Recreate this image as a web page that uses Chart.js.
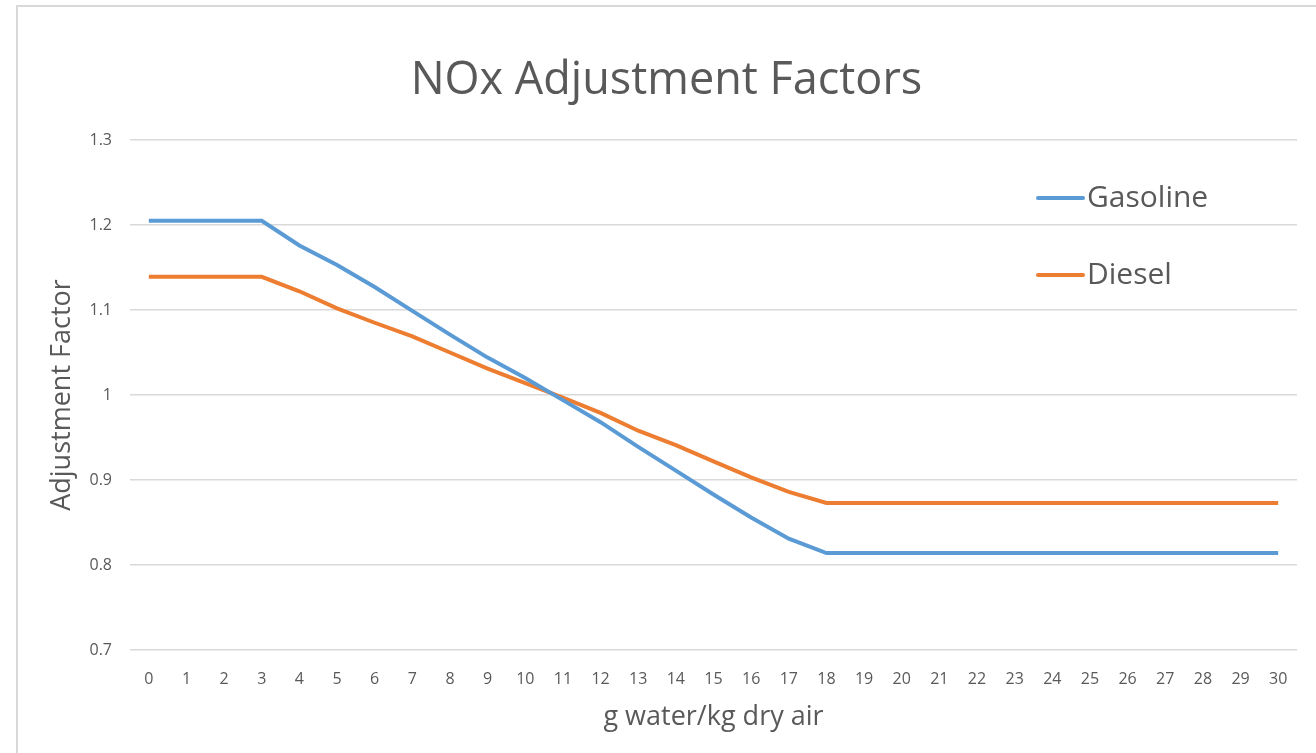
<!DOCTYPE html>
<html lang="en">
<head>
    <meta charset="UTF-8">
    <title>NOx Adjustment Factors</title>
    <script src="https://cdn.jsdelivr.net/npm/chart.js"></script>
    <style>
        body { margin: 0; background: #fff; }
        #wrap { position: relative; width: 1316px; height: 753px; overflow: hidden; }
        #frame {
            position: absolute; left: 16px; top: 5px; width: 1300px; height: 748px;
            border-left: 2px solid #d9d9d9; border-top: 2px solid #d9d9d9;
        }
        #nox { position: absolute; left: 0; top: 0; }
    </style>
</head>
<body>
    <div id="wrap">
        <div id="frame"></div>
        <canvas id="nox" width="1316" height="753"></canvas>
    </div>

    <script>
        // humidity, g water / kg dry air
        const humidity = ['0', '1', '2', '3', '4', '5', '6', '7', '8', '9', '10',
            '11', '12', '13', '14', '15', '16', '17', '18', '19', '20',
            '21', '22', '23', '24', '25', '26', '27', '28', '29', '30'];

        const gasoline = [1.205, 1.205, 1.205, 1.205, 1.176, 1.153, 1.127, 1.099, 1.071, 1.044, 1.020,
            0.994, 0.968, 0.939, 0.911, 0.883, 0.856, 0.831, 0.814, 0.814, 0.814,
            0.814, 0.814, 0.814, 0.814, 0.814, 0.814, 0.814, 0.814, 0.814, 0.814];

        const diesel = [1.139, 1.139, 1.139, 1.139, 1.122, 1.102, 1.085, 1.069, 1.050, 1.031, 1.014,
            0.997, 0.979, 0.958, 0.941, 0.922, 0.903, 0.886, 0.873, 0.873, 0.873,
            0.873, 0.873, 0.873, 0.873, 0.873, 0.873, 0.873, 0.873, 0.873, 0.873];

        const textGrey = '#595959';
        const fontFamily = '"Open Sans", "Noto Sans", sans-serif';

        // legend drawn inside the plot, upper right
        const insideLegend = {
            id: 'insideLegend',
            afterDraw(chart) {
                const ctx = chart.ctx;
                const area = chart.chartArea;
                const x0 = area.right - 259;
                let y = area.top + 58;
                ctx.save();
                ctx.font = '30px ' + fontFamily;
                ctx.textBaseline = 'middle';
                ctx.textAlign = 'left';
                chart.data.datasets.forEach(ds => {
                    ctx.strokeStyle = ds.borderColor;
                    ctx.lineWidth = 4;
                    ctx.lineCap = 'round';
                    ctx.beginPath();
                    ctx.moveTo(x0, y);
                    ctx.lineTo(x0 + 45, y);
                    ctx.stroke();
                    ctx.fillStyle = textGrey;
                    ctx.fillText(ds.label, x0 + 49, y);
                    y += 77;
                });
                ctx.restore();
            }
        };

        const ctx = document.getElementById('nox').getContext('2d');
        new Chart(ctx, {
            type: 'line',
            data: {
                labels: humidity,
                datasets: [
                    {
                        label: 'Gasoline',
                        data: gasoline,
                        borderColor: '#5b9bd5',
                        borderWidth: 4,
                        pointRadius: 0,
                        tension: 0,
                        fill: false
                    },
                    {
                        label: 'Diesel',
                        data: diesel,
                        borderColor: '#ed7d31',
                        borderWidth: 4,
                        pointRadius: 0,
                        tension: 0,
                        fill: false
                    }
                ]
            },
            options: {
                responsive: false,
                animation: false,
                layout: { padding: { left: 36, right: 19, top: 0, bottom: 0 } },
                plugins: {
                    legend: { display: false },
                    tooltip: { enabled: false },
                    title: {
                        display: true,
                        text: 'NOx Adjustment Factors',
                        color: textGrey,
                        font: { family: fontFamily, size: 45, weight: 'normal', lineHeight: 1.2 },
                        padding: { top: 54, bottom: 32 }
                    }
                },
                scales: {
                    x: {
                        offset: true,
                        grid: { display: false, drawTicks: false },
                        border: { display: false },
                        ticks: {
                            color: textGrey,
                            font: { family: fontFamily, size: 16 },
                            padding: 20,
                            maxRotation: 0,
                            autoSkip: false
                        },
                        title: {
                            display: true,
                            text: 'g water/kg dry air',
                            color: textGrey,
                            font: { family: fontFamily, size: 27, lineHeight: 1.2 },
                            padding: { top: 0, bottom: 19 }
                        },
                        afterFit(scale) { scale.height = 103; }
                    },
                    y: {
                        min: 0.7,
                        max: 1.3,
                        grid: { color: '#d9d9d9', lineWidth: 1.5, drawTicks: false },
                        border: { display: false },
                        ticks: {
                            stepSize: 0.1,
                            color: textGrey,
                            font: { family: fontFamily, size: 16 },
                            padding: 18,
                            callback: v => Math.round(v * 10) / 10
                        },
                        title: {
                            display: true,
                            text: 'Adjustment Factor',
                            color: textGrey,
                            font: { family: fontFamily, size: 27, lineHeight: 1.2 },
                            padding: { top: 10, bottom: 0 }
                        },
                        afterFit(scale) { scale.width = 94; }
                    }
                }
            },
            plugins: [insideLegend]
        });
    </script>
</body>
</html>
